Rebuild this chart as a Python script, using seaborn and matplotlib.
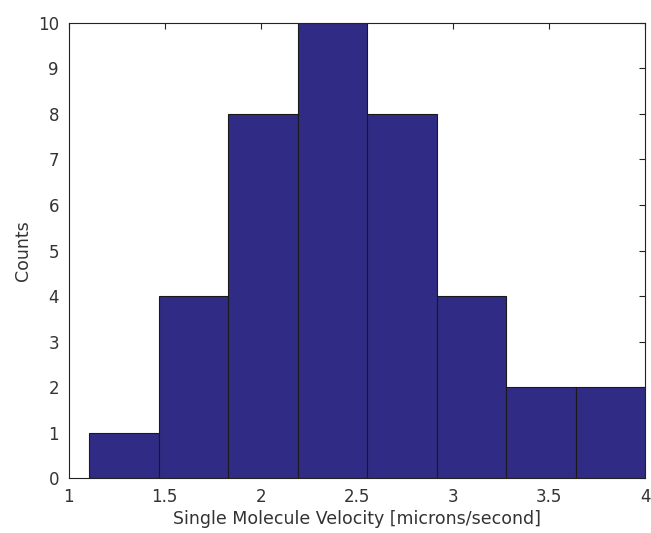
import numpy as np
import matplotlib
matplotlib.use("Agg")
import matplotlib.pyplot as plt
import seaborn as sns

# histogram
bin_edges = [1.107, 1.469, 1.830, 2.192, 2.554, 2.915, 3.277, 3.638, 4.0]
counts = [1, 4, 8, 10, 8, 4, 2, 2]
centers = [(a + b) / 2 for a, b in zip(bin_edges[:-1], bin_edges[1:])]

sns.set_style("white")
plt.rcParams['font.family'] = ['DejaVu Sans']

fig = plt.figure(figsize=(6.51, 5.33), dpi=100)
ax = fig.add_axes([0.1055, 0.103, 0.8855, 0.854])

sns.histplot(x=centers, weights=counts, bins=bin_edges, ax=ax,
             color="#302C85", edgecolor="#1a1a1a", linewidth=0.8, alpha=1)

ax.set_xlim(1, 4)
ax.set_ylim(0, 10)
ax.set_xticks([1, 1.5, 2, 2.5, 3, 3.5, 4])
ax.set_xticklabels(["1", "1.5", "2", "2.5", "3", "3.5", "4"])
ax.set_yticks(range(11))
ax.tick_params(direction="in", length=4, width=0.8, colors="#222222",
               labelcolor="#333333", labelsize=12, top=True, right=True, pad=7)
ax.tick_params(axis="x", pad=7)
for s in ax.spines.values():
    s.set_color("#222222")
    s.set_linewidth(0.8)

ax.set_xlabel("Single Molecule Velocity [microns/second]", fontsize=12.5, color="#333333", labelpad=3)
ax.set_ylabel("Counts", fontsize=12.5, color="#333333", labelpad=4)

fig.savefig("out.png", dpi=100)
